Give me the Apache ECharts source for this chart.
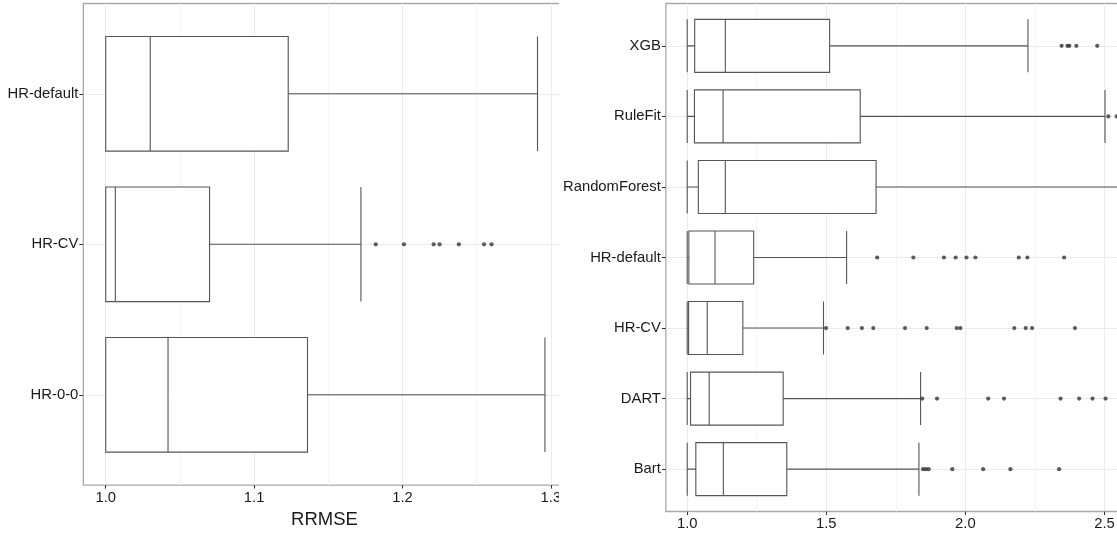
<!DOCTYPE html>
<html>
<head>
<meta charset="utf-8">
<script src="https://cdn.jsdelivr.net/npm/echarts@6/dist/echarts.min.js"></script>
<style>
  html, body { margin: 0; padding: 0; background: #fff; width: 1117px; height: 534px; overflow: hidden; }
  #leftWrap { position: absolute; left: 0; top: 0; width: 559px; height: 534px; overflow: hidden; }
  #rightWrap { position: absolute; left: 560px; top: 0; width: 557px; height: 534px; overflow: hidden; }
  #c1 { width: 620px; height: 534px; }
  #c2 { width: 700px; height: 534px; }
</style>
</head>
<body>
<div id="leftWrap"><div id="c1"></div></div>
<div id="rightWrap"><div id="c2"></div></div>
<script>
// ---------- Left panel data (bottom to top) ----------
const leftCats = ['HR-0-0', 'HR-CV', 'HR-default'];
const leftMin = [1.0, 1.0, 1.0];
const leftQ1 = [1.0, 1.0, 1.0];
const leftMedian = [1.042, 1.0065, 1.030];
const leftQ3 = [1.136, 1.070, 1.123];
const leftMax = [1.296, 1.172, 1.291];
const leftOutliers = [
  [],
  [1.182, 1.201, 1.221, 1.225, 1.238, 1.255, 1.260],
  []
];
const leftTicks = [1.0, 1.1, 1.2, 1.3];
const leftMinorTicks = [1.05, 1.15, 1.25];

// ---------- Right panel data (bottom to top) ----------
const rightCats = ['Bart', 'DART', 'HR-CV', 'HR-default', 'RandomForest', 'RuleFit', 'XGB'];
const rightMin = [1.0, 1.0, 1.0, 1.0, 1.0, 1.0, 1.0];
const rightQ1 = [1.031, 1.012, 1.005, 1.006, 1.040, 1.026, 1.027];
const rightMedian = [1.130, 1.079, 1.072, 1.100, 1.137, 1.129, 1.137];
const rightQ3 = [1.358, 1.345, 1.200, 1.239, 1.679, 1.622, 1.512];
const rightMax = [1.833, 1.839, 1.490, 1.573, 2.75, 2.502, 2.225];
const rightOutliers = [
  [1.848, 1.858, 1.868, 1.953, 2.064, 2.162, 2.337],
  [1.845, 1.898, 2.082, 2.139, 2.342, 2.409, 2.457, 2.504],
  [1.499, 1.577, 1.628, 1.669, 1.783, 1.861, 1.969, 1.982, 2.176, 2.217, 2.240, 2.394],
  [1.683, 1.813, 1.923, 1.965, 2.004, 2.036, 2.192, 2.223, 2.355],
  [],
  [2.514, 2.544],
  [2.346, 2.367, 2.374, 2.399, 2.474]
];
const rightTicks = [1.0, 1.5, 2.0, 2.5];
const rightMinorTicks = [1.25, 1.75, 2.25, 2.75];

const FONT = "'Liberation Sans', Arial, sans-serif";
const TXT = '#1a1a1a';
const BORDER = '#a8a8a8';
const MAJOR = '#ebebeb';
const MINOR = '#f5f5f5';
const BOXLINE = '#555555';

function buildOption(cfg) {
  const pos = cfg.cats.map((c, i) => i + 1);
  const boxData = cfg.cats.map((c, i) => [i + 1, cfg.min[i], cfg.q1[i], cfg.med[i], cfg.q3[i], cfg.max[i]]);
  const outData = [];
  cfg.out.forEach((arr, i) => arr.forEach(v => outData.push([v, i + 1])));
  const xLabel = {
    customValues: cfg.ticks, formatter: v => v.toFixed(1),
    color: TXT, fontFamily: FONT, fontSize: 14.8, margin: 5
  };
  return {
    animation: false,
    grid: {
      left: cfg.gridLeft, top: 3.5, width: cfg.gridWidth, height: cfg.gridHeight,
      show: true, borderColor: BORDER, borderWidth: 1.3, backgroundColor: '#fff'
    },
    xAxis: [
      {
        type: 'value', min: cfg.xMin, max: cfg.xMax, position: 'bottom',
        axisLine: { show: false },
        axisTick: { show: true, length: 3.5, customValues: cfg.ticks, lineStyle: { color: '#333', width: 1 } },
        axisLabel: xLabel,
        splitLine: { show: true, lineStyle: { color: MAJOR, width: 1 } },
        name: cfg.xName || '', nameLocation: 'middle', nameGap: 22,
        nameTextStyle: { fontSize: 18.5, color: TXT, fontFamily: FONT }
      },
      {
        type: 'value', min: cfg.xMin, max: cfg.xMax, position: 'top',
        axisLine: { show: false },
        axisTick: { show: false, customValues: cfg.minorTicks },
        axisLabel: { show: false, customValues: cfg.minorTicks },
        splitLine: { show: true, lineStyle: { color: MINOR, width: 1 } }
      }
    ],
    yAxis: {
      type: 'value', min: 0.4, max: cfg.cats.length + 0.6,
      axisLine: { show: false },
      axisTick: { show: true, length: 4, customValues: pos, lineStyle: { color: '#333', width: 1 } },
      axisLabel: {
        customValues: pos, formatter: v => cfg.cats[Math.round(v) - 1] || '',
        color: TXT, fontFamily: FONT, fontSize: 14.8, margin: 5
      },
      splitLine: { show: true, lineStyle: { color: MAJOR, width: 1 } }
    },
    series: [
      {
        type: 'boxplot', layout: 'vertical', xAxisIndex: 0, yAxisIndex: 0,
        boxWidth: [cfg.boxWidth, cfg.boxWidth],
        itemStyle: { color: '#fff', borderColor: BOXLINE, borderWidth: 1.1 },
        emphasis: { disabled: true },
        data: boxData, z: 3
      },
      {
        type: 'scatter', xAxisIndex: 0, yAxisIndex: 0,
        symbol: 'circle', symbolSize: 4.2,
        itemStyle: { color: '#333' },
        emphasis: { disabled: true },
        data: outData, z: 4
      }
    ]
  };
}

const c1 = echarts.init(document.getElementById('c1'), null, { renderer: 'canvas' });
c1.setOption(buildOption({
  cats: leftCats, min: leftMin, q1: leftQ1, med: leftMedian, q3: leftQ3, max: leftMax, out: leftOutliers,
  ticks: leftTicks, minorTicks: leftMinorTicks,
  xMin: 0.9849, xMax: 1.31, gridLeft: 83.3, gridWidth: 482.4, gridHeight: 489,
  boxWidth: 114.6, xName: 'RRMSE'
}));

const c2 = echarts.init(document.getElementById('c2'), null, { renderer: 'canvas' });
c2.setOption(buildOption({
  cats: rightCats, min: rightMin, q1: rightQ1, med: rightMedian, q3: rightQ3, max: rightMax, out: rightOutliers,
  ticks: rightTicks, minorTicks: rightMinorTicks,
  xMin: 0.9233, xMax: 2.8, gridLeft: 104.3, gridWidth: 523.6, gridHeight: 508,
  boxWidth: 53, xName: ''
}));
</script>
</body>
</html>
